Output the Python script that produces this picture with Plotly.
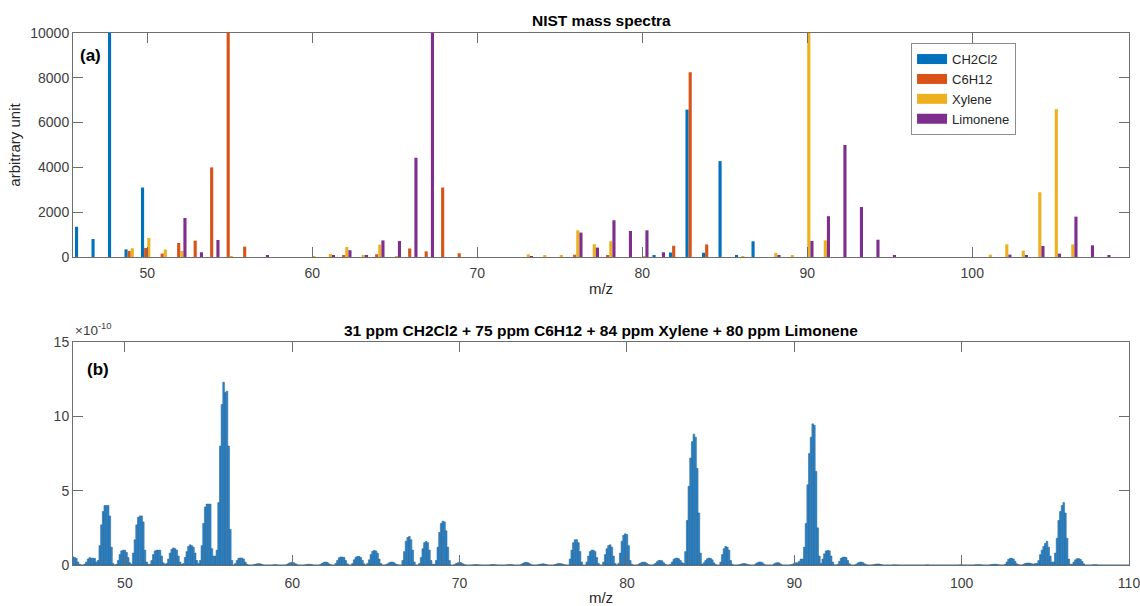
import plotly.graph_objects as go

# ---------------- (a) NIST mass spectra ----------------
mz_top = list(range(46, 109))  # 46 .. 108

def sparse(d):
    return [d.get(m, 0) for m in mz_top]

ch2cl2 = sparse({46: 1350, 47: 800, 48: 9999, 49: 340, 50: 3100, 81: 45, 82: 200,
                 83: 6580, 84: 190, 85: 4280, 86: 60, 87: 700})
c6h12 = sparse({49: 270, 50: 400, 51: 150, 52: 625, 53: 730, 54: 4000, 55: 9999, 56: 460,
                62: 60, 64: 120, 66: 380, 67: 250, 68: 3100, 69: 165, 76: 100, 78: 60,
                82: 500, 83: 8250, 84: 560})
xylene = sparse({49: 390, 50: 850, 51: 330, 52: 270, 55: 40, 60: 30, 61: 135, 62: 450,
                 63: 60, 64: 550, 65: 40, 73: 120, 74: 60, 75: 60, 76: 1190, 77: 570,
                 78: 700, 80: 30, 86: 30, 88: 180, 89: 60, 90: 9999, 91: 740, 101: 100,
                 102: 565, 103: 280, 104: 2890, 105: 6600, 106: 560})
limonene = sparse({52: 1740, 53: 210, 54: 760, 57: 60, 61: 60, 62: 300, 63: 75, 64: 740,
                   65: 710, 66: 4430, 67: 9999, 73: 40, 76: 1090, 77: 420, 78: 1640,
                   79: 1160, 80: 1190, 81: 210, 88: 90, 90: 714, 91: 1820, 92: 5000,
                   93: 2230, 94: 770, 95: 50, 102: 105, 103: 60, 104: 490, 105: 150,
                   106: 1800, 107: 520, 108: 50})
series_names = ["CH2Cl2", "C6H12", "Xylene", "Limonene"]
series_colors = ["#0072BD", "#D95319", "#EDB120", "#7E2F8E"]
top_yticks = [0, 2000, 4000, 6000, 8000, 10000]

# ---------------- (b) measured mixture spectrum (units of 1e-10) ----------------
sub_offsets = [-0.5, -0.4, -0.3, -0.2, -0.1, 0.0, 0.1, 0.2, 0.3, 0.4]
mix_mz_47_56 = list(range(47, 57))
mix_47_56 = [
    [0.3, 0.4, 0.5, 0.5, 0.55, 0.5, 0.45, 0.2, 0.05, 0.0],
    [0.0, 0.05, 0.2, 0.4, 0.5, 0.45, 0.45, 0.45, 0.2, 0.3],
    [1.3, 2.7, 3.6, 4.0, 4.0, 4.0, 3.3, 1.2, 0.1, 0.0],
    [0.05, 0.3, 0.7, 0.95, 1.0, 1.0, 0.85, 0.5, 0.15, 0.05],
    [0.8, 1.7, 2.7, 3.2, 3.3, 3.3, 2.9, 1.0, 0.2, 0.05],
    [0.05, 0.3, 0.7, 0.95, 1.0, 1.0, 1.0, 0.6, 0.15, 0.05],
    [0.1, 0.4, 0.8, 1.05, 1.15, 1.1, 1.0, 0.6, 0.2, 0.05],
    [0.1, 0.5, 0.9, 1.25, 1.36, 1.3, 1.2, 0.8, 0.3, 0.1],
    [0.3, 1.3, 2.8, 3.9, 4.1, 4.1, 4.1, 1.1, 0.6, 0.6],
    [1.0, 4.2, 8.0, 10.8, 12.3, 11.6, 11.7, 8.0, 2.4, 0.3],
]
mix_mz_57_66 = list(range(57, 67))
mix_57_66 = [
    [0.0, 0.1, 0.3, 0.45, 0.47, 0.47, 0.4, 0.2, 0.05, 0.0],
    [0.0, 0.0, 0.02, 0.05, 0.08, 0.09, 0.08, 0.04, 0.0, 0.0],
    [0.0, 0.0, 0.0, 0.0, 0.02, 0.02, 0.01, 0.0, 0.0, 0.0],
    [0.0, 0.0, 0.05, 0.12, 0.16, 0.18, 0.15, 0.08, 0.02, 0.0],
    [0.0, 0.0, 0.0, 0.02, 0.04, 0.05, 0.04, 0.02, 0.0, 0.0],
    [0.0, 0.0, 0.05, 0.12, 0.18, 0.2, 0.17, 0.08, 0.02, 0.0],
    [0.0, 0.1, 0.3, 0.48, 0.54, 0.54, 0.5, 0.3, 0.08, 0.0],
    [0.0, 0.1, 0.35, 0.52, 0.58, 0.58, 0.5, 0.3, 0.08, 0.0],
    [0.1, 0.35, 0.7, 0.92, 0.98, 0.95, 0.8, 0.4, 0.1, 0.0],
    [0.0, 0.02, 0.08, 0.15, 0.2, 0.2, 0.15, 0.06, 0.02, 0.0],
]
mix_mz_67_76 = list(range(67, 77))
mix_67_76 = [
    [0.0, 0.3, 0.9, 1.6, 1.85, 1.92, 1.7, 1.0, 0.2, 0.0],
    [0.0, 0.1, 0.5, 1.1, 1.5, 1.59, 1.5, 1.0, 0.3, 0.05],
    [0.05, 0.3, 1.2, 2.2, 2.8, 2.95, 2.9, 2.3, 1.2, 0.3],
    [0.0, 0.0, 0.03, 0.1, 0.15, 0.18, 0.15, 0.08, 0.02, 0.0],
    [0.0, 0.0, 0.0, 0.01, 0.02, 0.03, 0.02, 0.01, 0.0, 0.0],
    [0.0, 0.0, 0.0, 0.01, 0.02, 0.03, 0.02, 0.01, 0.0, 0.0],
    [0.0, 0.0, 0.0, 0.01, 0.02, 0.03, 0.02, 0.01, 0.0, 0.0],
    [0.0, 0.0, 0.05, 0.12, 0.17, 0.18, 0.15, 0.08, 0.02, 0.0],
    [0.0, 0.0, 0.02, 0.05, 0.07, 0.08, 0.06, 0.03, 0.0, 0.0],
    [0.0, 0.0, 0.03, 0.07, 0.1, 0.1, 0.08, 0.04, 0.01, 0.0],
]
mix_mz_77_86 = list(range(77, 87))
mix_77_86 = [
    [0.0, 0.4, 1.0, 1.5, 1.7, 1.7, 1.5, 0.9, 0.2, 0.0],
    [0.0, 0.2, 0.6, 0.9, 1.0, 1.0, 0.9, 0.5, 0.1, 0.0],
    [0.0, 0.2, 0.7, 1.1, 1.3, 1.36, 1.2, 0.6, 0.1, 0.0],
    [0.1, 0.8, 1.6, 2.0, 2.1, 2.05, 1.3, 0.3, 0.05, 0.0],
    [0.0, 0.0, 0.05, 0.12, 0.18, 0.2, 0.18, 0.1, 0.03, 0.0],
    [0.0, 0.03, 0.1, 0.22, 0.3, 0.31, 0.28, 0.15, 0.05, 0.0],
    [0.0, 0.05, 0.2, 0.38, 0.45, 0.47, 0.42, 0.3, 0.15, 0.1],
    [0.9, 3.0, 5.3, 7.2, 8.3, 8.8, 8.6, 6.5, 3.5, 0.8],
    [0.05, 0.15, 0.3, 0.42, 0.47, 0.45, 0.35, 0.15, 0.03, 0.0],
    [0.0, 0.2, 0.7, 1.1, 1.25, 1.2, 1.0, 0.3, 0.05, 0.0],
]
mix_mz_87_96 = list(range(87, 97))
mix_87_96 = [
    [0.0, 0.0, 0.02, 0.05, 0.08, 0.1, 0.08, 0.04, 0.01, 0.0],
    [0.0, 0.0, 0.08, 0.15, 0.2, 0.2, 0.15, 0.05, 0.0, 0.0],
    [0.0, 0.0, 0.0, 0.08, 0.14, 0.16, 0.14, 0.06, 0.0, 0.0],
    [0.0, 0.0, 0.0, 0.02, 0.05, 0.1, 0.15, 0.15, 0.25, 0.4],
    [0.4, 1.2, 2.8, 5.4, 7.5, 8.6, 9.5, 9.4, 6.3, 2.5],
    [0.6, 0.1, 0.4, 0.75, 0.95, 0.98, 0.95, 0.6, 0.2, 0.02],
    [0.0, 0.05, 0.25, 0.45, 0.52, 0.54, 0.5, 0.3, 0.08, 0.0],
    [0.0, 0.0, 0.05, 0.14, 0.19, 0.2, 0.17, 0.08, 0.02, 0.0],
    [0.0, 0.0, 0.01, 0.04, 0.06, 0.07, 0.06, 0.03, 0.0, 0.0],
    [0.0, 0.0, 0.0, 0.0, 0.01, 0.01, 0.01, 0.0, 0.0, 0.0],
]
mix_mz_97_110 = list(range(97, 111))
mix_97_110 = [
    [0.0, 0.0, 0.0, 0.0, 0.0, 0.0, 0.0, 0.0, 0.0, 0.0],
    [0.0, 0.0, 0.0, 0.0, 0.01, 0.01, 0.0, 0.0, 0.0, 0.0],
    [0.0, 0.0, 0.0, 0.0, 0.0, 0.0, 0.0, 0.0, 0.0, 0.0],
    [0.0, 0.0, 0.0, 0.0, 0.01, 0.01, 0.0, 0.0, 0.0, 0.0],
    [0.0, 0.0, 0.0, 0.01, 0.02, 0.02, 0.02, 0.01, 0.0, 0.0],
    [0.0, 0.0, 0.01, 0.03, 0.05, 0.05, 0.04, 0.02, 0.0, 0.0],
    [0.0, 0.05, 0.2, 0.38, 0.45, 0.45, 0.4, 0.25, 0.08, 0.02],
    [0.0, 0.0, 0.05, 0.1, 0.13, 0.13, 0.12, 0.08, 0.05, 0.1],
    [0.1, 0.3, 0.7, 1.0, 1.25, 1.45, 1.59, 1.2, 0.6, 0.2],
    [0.2, 0.8, 1.8, 3.0, 3.6, 4.0, 4.2, 3.5, 1.8, 0.4],
    [0.05, 0.05, 0.2, 0.35, 0.42, 0.43, 0.38, 0.25, 0.08, 0.0],
    [0.0, 0.0, 0.0, 0.01, 0.02, 0.02, 0.01, 0.0, 0.0, 0.0],
    [0.0, 0.0, 0.0, 0.0, 0.0, 0.0, 0.0, 0.0, 0.0, 0.0],
    [0.0, 0.0, 0.0, 0.0, 0.0, 0.0, 0.0, 0.0, 0.0, 0.0],
]

mix_x, mix_y = [], []
for mzs, rows in [(mix_mz_47_56, mix_47_56), (mix_mz_57_66, mix_57_66),
                  (mix_mz_67_76, mix_67_76), (mix_mz_77_86, mix_77_86),
                  (mix_mz_87_96, mix_87_96), (mix_mz_97_110, mix_97_110)]:
    for m, row in zip(mzs, rows):
        for off, v in zip(sub_offsets, row):
            mix_x.append(round(m + off, 2))
            mix_y.append(v)

FONT = "Liberation Sans, Arial, Helvetica, sans-serif"
TICKC = "#404040"
AXC = "#6e6e6e"
LABC = "#262626"

fig = go.Figure()
for name, col, vals in zip(series_names, series_colors, [ch2cl2, c6h12, xylene, limonene]):
    fig.add_trace(go.Bar(x=mz_top, y=vals, name=name, marker=dict(color=col, line=dict(width=0)),
                         xaxis="x", yaxis="y", showlegend=False, legendgroup=name,
                         offsetgroup=name))
    # legend swatch (wide rectangle like the original)
    fig.add_trace(go.Scatter(x=[None], y=[None], mode="lines", name=name, legendgroup=name,
                             line=dict(color=col, width=12), xaxis="x", yaxis="y"))

fig.add_trace(go.Bar(x=mix_x, y=mix_y, width=0.1,
                     marker=dict(color="#2f8ad0", line=dict(width=0.5, color="#1d5a8c")),
                     xaxis="x2", yaxis="y2", showlegend=False, name="mixture"))

axis_common = dict(showline=True, linecolor=AXC, linewidth=1, mirror="ticks", ticks="inside",
                   ticklen=10, tickcolor=AXC, showgrid=False, zeroline=False, automargin=False,
                   ticklabeloverflow="allow",
                   tickfont=dict(family=FONT, size=14, color=TICKC))
title_font = dict(family=FONT, size=15, color=LABC)

fig.update_layout(
    width=1140, height=606,
    margin=dict(l=73, r=11, t=33, b=41, autoexpand=False),
    paper_bgcolor="white", plot_bgcolor="white",
    barmode="group", bargap=0.24, bargroupgap=0.0,
    font=dict(family=FONT, size=13, color=TICKC),
    xaxis=dict(domain=[0, 1], anchor="y", range=[45.5, 109.5], tickvals=[50, 60, 70, 80, 90, 100],
               ticklabelstandoff=3,
               title=dict(text="m/z", standoff=3, font=title_font), **axis_common),
    yaxis=dict(domain=[0.579, 1.0], anchor="x", range=[0, 10000], tickvals=top_yticks,
               ticktext=[str(v) for v in top_yticks],
               title=dict(text="arbitrary unit", standoff=6, font=title_font), **axis_common),
    xaxis2=dict(domain=[0, 1], anchor="y2", range=[46.9, 110], tickvals=[50, 60, 70, 80, 90, 100, 110],
                ticklabelstandoff=5,
                title=dict(text="m/z", standoff=5, font=title_font), **axis_common),
    yaxis2=dict(domain=[0, 0.419], anchor="x2", range=[0, 15], tickvals=[0, 5, 10, 15], **axis_common),
    legend=dict(x=0.7936, y=0.981, xanchor="left", yanchor="top", bgcolor="white",
                bordercolor="#8c8c8c", borderwidth=1, tracegroupgap=0,
                font=dict(family=FONT, size=13, color=LABC)),
    showlegend=True,
)

fig.add_annotation(text="<b>NIST mass spectra</b>", xref="paper", yref="paper", x=0.5, y=1.0226,
                   xanchor="center", yanchor="middle", showarrow=False,
                   font=dict(family=FONT, size=15.5, color="#000000"))
fig.add_annotation(text="<b>31 ppm CH2Cl2 + 75 ppm C6H12 + 84 ppm Xylene + 80 ppm Limonene</b>",
                   xref="paper", yref="paper", x=0.5, y=0.44, xanchor="center", yanchor="middle",
                   showarrow=False, font=dict(family=FONT, size=15.5, color="#000000"))
fig.add_annotation(text="<b>(a)</b>", xref="paper", yref="paper", x=0.005, y=0.957,
                   xanchor="left", yanchor="middle", showarrow=False,
                   font=dict(family=FONT, size=17, color="#000000"))
fig.add_annotation(text="<b>(b)</b>", xref="paper", yref="paper", x=0.011, y=0.368,
                   xanchor="left", yanchor="middle", showarrow=False,
                   font=dict(family=FONT, size=17, color="#000000"))
fig.add_annotation(text="×10<sup>-10</sup>", xref="paper", yref="paper", x=0.0, y=0.443,
                   xanchor="left", yanchor="middle", showarrow=False,
                   font=dict(family=FONT, size=13.5, color=TICKC))

fig.write_html("out.html")
